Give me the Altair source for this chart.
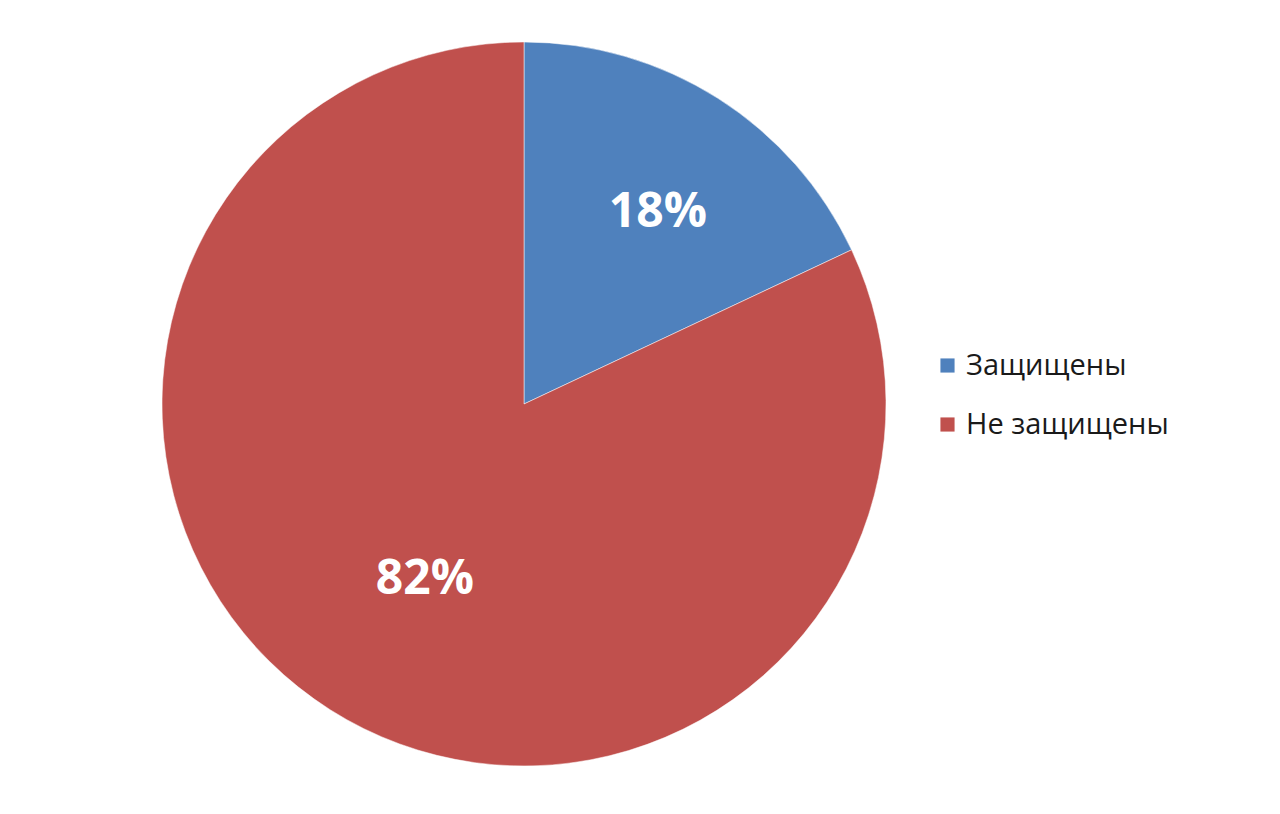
import altair as alt
import pandas as pd

categories = ["Защищены", "Не защищены"]
values = [18, 82]
labels = ["18%", "82%"]
order = [0, 1]
colors = ["#4F81BD", "#C0504D"]

df = pd.DataFrame({"cat": categories, "val": values, "lab": labels, "ord": order})

CX, CY, R = 516, 396, 362
FONT = "Open Sans"

base = alt.Chart(df)

pie = base.mark_arc(stroke="#ffffff", strokeWidth=0.5).encode(
    theta=alt.Theta("val:Q", stack=True),
    order=alt.Order("ord:Q"),
    color=alt.Color(
        "cat:N",
        scale=alt.Scale(domain=categories, range=colors),
        sort=categories,
        legend=alt.Legend(
            title=None,
            orient="none",
            legendX=925,
            legendY=343,
            symbolType="square",
            symbolSize=200,
            symbolStrokeWidth=0,
            labelFont=FONT,
            labelFontSize=29,
            labelColor="#1a1a1a",
            labelOffset=4,
            rowPadding=29,
            labelLimit=400,
        ),
    ),
    x=alt.value(CX),
    y=alt.value(CY),
    radius=alt.value(R),
)


def text_layer(idx, rad):
    return base.transform_window(
        cum="sum(val)", sort=[alt.SortField("ord")]
    ).transform_joinaggregate(tot="sum(val)").transform_calculate(
        ang="(datum.cum - datum.val/2) / datum.tot * 2 * PI",
    ).transform_calculate(
        px=f"{CX} + {rad} * sin(datum.ang)",
        py=f"{CY} - {rad} * cos(datum.ang)",
    ).transform_filter(f"datum.ord == {idx}").mark_text(
        font=FONT, fontSize=48, fontWeight="bold", color="white",
        align="center", baseline="middle", dx=8, dy=7
    ).encode(
        x=alt.X("px:Q", scale=None),
        y=alt.Y("py:Q", scale=None),
        text="lab:N",
    )


chart = alt.layer(pie, text_layer(0, 235), text_layer(1, 200)).properties(
    width=1264, height=798, padding=0, autosize="none", background="white"
).configure_view(stroke=None)

chart.save("out.html", embed_options={"renderer": "svg", "actions": False})
